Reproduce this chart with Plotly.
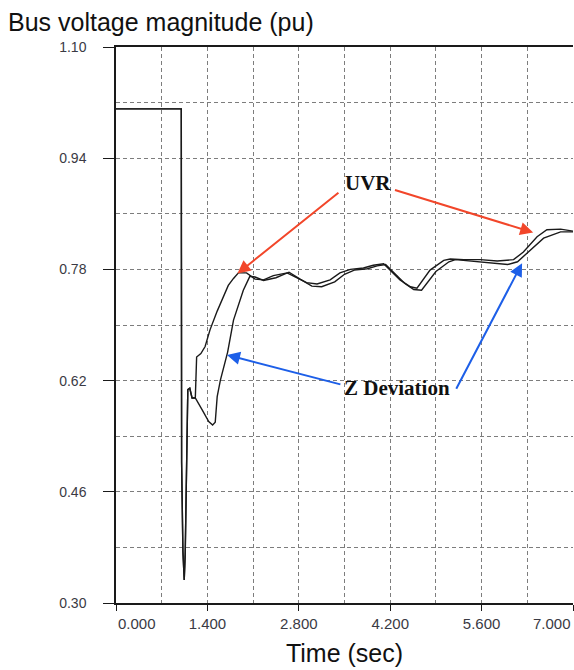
import plotly.graph_objects as go

# Bus voltage response (pu) after a fault at t = 1.0 s, two load-shedding schemes
uvr_t = [0.0, 1.0, 1.005, 1.025, 1.045, 1.06, 1.10, 1.13, 1.165, 1.215, 1.235,
         1.30, 1.365, 1.44, 1.55, 1.645, 1.72, 1.80, 1.875, 2.0, 2.13, 2.26,
         2.41, 2.62, 2.77, 2.92, 3.08, 3.28, 3.43, 3.59, 3.79, 3.94, 4.10,
         4.20, 4.35, 4.51, 4.61, 4.81, 5.02, 5.12, 5.33, 5.58, 5.84, 6.09,
         6.24, 6.45, 6.60, 6.81, 7.0]
uvr_v = [1.011, 1.011, 0.503, 0.374, 0.333, 0.37, 0.607, 0.609, 0.595, 0.595, 0.654,
         0.659, 0.669, 0.693, 0.720, 0.741, 0.757, 0.767, 0.775, 0.775, 0.766, 0.765,
         0.771, 0.775, 0.768, 0.761, 0.759, 0.765, 0.775, 0.780, 0.782, 0.786, 0.788,
         0.779, 0.765, 0.755, 0.753, 0.779, 0.793, 0.795, 0.794, 0.794, 0.792, 0.794,
         0.805, 0.827, 0.837, 0.838, 0.835]

zdev_t = [0.0, 1.0, 1.005, 1.025, 1.045, 1.06, 1.10, 1.13, 1.165, 1.215, 1.32,
          1.42, 1.48, 1.52, 1.55, 1.60, 1.71, 1.80, 1.95, 2.05, 2.13, 2.26,
          2.45, 2.65, 2.82, 3.0, 3.15, 3.35, 3.5, 3.65, 3.85, 4.0, 4.13,
          4.25, 4.42, 4.56, 4.68, 4.9, 5.1, 5.2, 5.45, 5.65, 5.84, 6.0,
          6.15, 6.35, 6.55, 6.81, 7.0]
zdev_v = [1.011, 1.011, 0.503, 0.374, 0.333, 0.37, 0.607, 0.609, 0.595, 0.595, 0.578,
          0.561, 0.556, 0.560, 0.597, 0.621, 0.661, 0.707, 0.750, 0.770, 0.769, 0.764,
          0.768, 0.776, 0.766, 0.756, 0.755, 0.762, 0.773, 0.779, 0.781, 0.785, 0.787,
          0.776, 0.760, 0.751, 0.750, 0.777, 0.791, 0.794, 0.792, 0.790, 0.788, 0.787,
          0.791, 0.808, 0.825, 0.834, 0.834]

x_ticks = [0.0, 1.4, 2.8, 4.2, 5.6, 7.0]
x_tick_text = ["0.000", "1.400", "2.800", "4.200", "5.600", "7.000"]
y_ticks = [0.30, 0.46, 0.62, 0.78, 0.94, 1.10]
y_tick_text = ["0.30", "0.46", "0.62", "0.78", "0.94", "1.10"]

LINE = "#1a1a1a"
GRID = "#7d7d7d"
SANS = "Liberation Sans, Arial, sans-serif"
SERIF = "Liberation Serif, Times New Roman, serif"
TICKFONT = dict(family=SANS, color="#3a3a44")
RED = "#f2462a"
BLUE = "#1d5fe8"

fig = go.Figure()
fig.add_trace(go.Scatter(x=uvr_t, y=uvr_v, mode="lines", name="UVR",
                         line=dict(color=LINE, width=1.4)))
fig.add_trace(go.Scatter(x=zdev_t, y=zdev_v, mode="lines", name="Z Deviation",
                         line=dict(color=LINE, width=1.4)))

# end labels of the time axis are kept inside the plot width
inner_text = ["" if v in (x_ticks[0], x_ticks[-1]) else s for v, s in zip(x_ticks, x_tick_text)]

fig.update_xaxes(
    range=[0, 7.0], tickvals=x_ticks, ticktext=inner_text,
    ticks="outside", ticklen=6, tickcolor=LINE, tickfont=dict(size=15, **TICKFONT),
    showline=True, linecolor=LINE, linewidth=1.5, mirror=True, zeroline=False,
    showgrid=True, gridcolor=GRID, griddash="4px,3px", gridwidth=1,
    minor=dict(dtick=0.7, tick0=0, showgrid=True, gridcolor=GRID,
               griddash="4px,3px", gridwidth=1),
    title=dict(text="Time (sec)", standoff=14,
               font=dict(size=25, family=SANS, color="#111")),
)
fig.update_yaxes(
    range=[0.30, 1.10], tickvals=y_ticks, ticktext=y_tick_text,
    ticks="outside", ticklen=11, tickcolor=LINE, tickfont=dict(size=14, **TICKFONT),
    ticklabelstandoff=14,
    showline=True, linecolor=LINE, linewidth=1.5, zeroline=False,
    showgrid=True, gridcolor=GRID, griddash="4px,3px", gridwidth=1,
    minor=dict(dtick=0.08, tick0=0.30, showgrid=True, gridcolor=GRID,
               griddash="4px,3px", gridwidth=1),
)

annotations = [
    dict(x=x_ticks[0], y=0, xref="x", yref="paper", text=x_tick_text[0],
         xanchor="left", yanchor="top", yshift=-10, showarrow=False,
         font=dict(size=15, **TICKFONT)),
    dict(x=x_ticks[-1], y=0, xref="x", yref="paper", text=x_tick_text[-1],
         xanchor="right", yanchor="top", yshift=-10, showarrow=False,
         font=dict(size=15, **TICKFONT)),
    dict(x=3.86, y=0.904, xref="x", yref="y", text="<b>UVR</b>", showarrow=False,
         font=dict(size=21, family=SERIF, color="#111")),
    dict(x=4.31, y=0.609, xref="x", yref="y", text="<b>Z Deviation</b>", showarrow=False,
         font=dict(size=21, family=SERIF, color="#111")),
]

# arrows: (tail_x, tail_y, head_x, head_y, colour)
arrows = [
    (3.43, 0.892, 1.86, 0.774, RED),
    (4.25, 0.895, 6.39, 0.833, RED),
    (3.46, 0.614, 1.70, 0.657, BLUE),
    (5.20, 0.606, 6.22, 0.789, BLUE),
]
for ax_, ay_, hx, hy, col in arrows:
    annotations.append(dict(
        x=hx, y=hy, ax=ax_, ay=ay_, xref="x", yref="y", axref="x", ayref="y",
        text="", showarrow=True, arrowhead=2, arrowsize=1.3, arrowwidth=2,
        arrowcolor=col, standoff=0, startstandoff=0))

fig.update_layout(
    width=574, height=670,
    margin=dict(l=116, r=1, t=47, b=67),
    paper_bgcolor="white", plot_bgcolor="white",
    showlegend=False,
    title=dict(text="Bus voltage magnitude (pu)", xref="container", yref="container",
               x=8 / 574, xanchor="left", y=1 - 22 / 670, yanchor="middle",
               font=dict(size=25, family=SANS, color="#111")),
    annotations=annotations,
)

fig.write_html("out.html")
